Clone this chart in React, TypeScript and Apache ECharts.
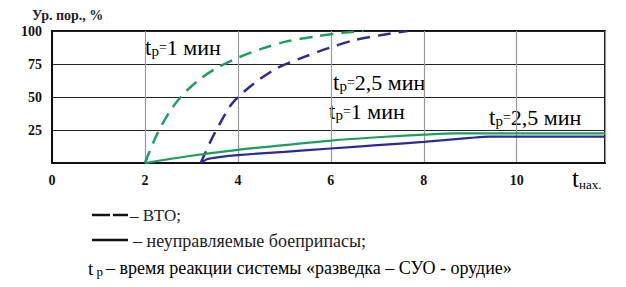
import React, { useEffect, useRef } from "react";
import * as echarts from "echarts";

const xTicks = [0, 2, 4, 6, 8, 10];
const yTicks = [25, 50, 75, 100];

const vtoFast: [number, number][] = [
  [2, 0], [2.25, 21], [2.55, 40], [2.85, 53], [3.2, 64], [3.6, 73],
  [4.05, 80.5], [4.55, 87], [5.1, 92.5], [5.7, 96], [6.3, 98.8], [6.7, 100],
];
const vtoSlow: [number, number][] = [
  [3.2, 0], [3.42, 17], [3.63, 31], [3.85, 44], [4.13, 54], [4.45, 63],
  [4.85, 72], [5.4, 80], [5.95, 87], [6.5, 93], [7.1, 97], [7.65, 100],
];
const unguidedFast: [number, number][] = [
  [2, 0], [3, 5.5], [4, 10], [5, 13.5], [6, 17], [7, 19.5], [8, 21.5], [8.7, 22.5], [11.9, 22.5],
];
const unguidedSlow: [number, number][] = [
  [3.2, 0], [3.35, 3], [3.6, 4.5], [4, 6], [5, 8.5], [6, 11], [7, 13.5], [8, 16], [9, 19], [9.4, 20], [11.9, 20],
];

const GREEN = "#1c9f5e";
const BLUE = "#2d2a98";
const SERIF = "Times New Roman, Liberation Serif, DejaVu Serif, serif";

const tpRich = {
  t: { fontSize: 23, fontFamily: SERIF, color: "#222" },
  p: { fontSize: 15, fontFamily: SERIF, color: "#222", verticalAlign: "bottom" },
  e: { fontSize: 14, fontFamily: SERIF, color: "#222" },
  v: { fontSize: 22, fontFamily: SERIF, color: "#222" },
};

function tpLabel(x: number, y: number, val: string) {
  return {
    type: "text",
    x,
    y,
    style: {
      text: `{t|t}{p|р}{e|=}{v|${val}}`,
      rich: tpRich,
      fontFamily: SERIF,
      verticalAlign: "middle",
    },
  };
}

function plainText(x: number, y: number, text: string, size: number, weight = "normal") {
  return {
    type: "text",
    x,
    y,
    style: {
      text,
      fontFamily: SERIF,
      fontSize: size,
      fontWeight: weight,
      fill: "#222",
      verticalAlign: "middle",
    },
  };
}

export default function App() {
  const ref = useRef<HTMLDivElement>(null);
  useEffect(() => {
    if (!ref.current) return;
    const chart = echarts.init(ref.current, null, { renderer: "svg" });
    chart.setOption({
      animation: false,
      backgroundColor: "#fff",
      textStyle: { fontFamily: SERIF },
      grid: {
        left: 52,
        top: 31,
        right: 21,
        bottom: 124,
        show: true,
        borderColor: "#111",
        borderWidth: 2,
      },
      xAxis: {
        type: "value",
        min: 0,
        max: 11.9,
        interval: 2,
        axisLine: { show: true, lineStyle: { color: "#111", width: 2 } },
        axisTick: { show: false },
        splitLine: { show: true, lineStyle: { color: "#9a9a9a", width: 1.2 } },
        axisLabel: {
          margin: 10,
          color: "#111",
          fontFamily: SERIF,
          fontWeight: "bold",
          fontSize: 14,
          showMaxLabel: false,
          formatter: (v: number) => (xTicks.includes(v) ? String(v) : ""),
        },
      },
      yAxis: {
        type: "value",
        min: 0,
        max: 100,
        interval: 25,
        axisLine: { show: true, lineStyle: { color: "#111", width: 2 } },
        axisTick: { show: false },
        splitLine: { show: true, lineStyle: { color: "#222", width: 1 } },
        axisLabel: {
          margin: 10,
          color: "#111",
          fontFamily: SERIF,
          fontWeight: "bold",
          fontSize: 14,
          showMinLabel: false,
          formatter: (v: number) => (yTicks.includes(v) ? String(v) : ""),
        },
      },
      series: [
        {
          type: "line",
          data: vtoFast,
          smooth: 0.3,
          showSymbol: false,
          lineStyle: { color: GREEN, width: 2.5, type: [13, 8] },
        },
        {
          type: "line",
          data: vtoSlow,
          smooth: 0.3,
          showSymbol: false,
          lineStyle: { color: BLUE, width: 2.5, type: [13, 8] },
        },
        {
          type: "line",
          data: unguidedFast,
          smooth: 0.3,
          showSymbol: false,
          lineStyle: { color: GREEN, width: 2.2 },
        },
        {
          type: "line",
          data: unguidedSlow,
          smooth: 0.3,
          showSymbol: false,
          lineStyle: { color: BLUE, width: 2.2 },
        },
      ],
      graphic: [
        plainText(32, 15, "Ур. пор., %", 14, "bold"),
        {
          type: "text",
          x: 572,
          y: 178,
          style: {
            text: "{t|t}{s|нах.}",
            fontFamily: SERIF,
            rich: {
              t: { fontSize: 25, fontFamily: SERIF, color: "#222" },
              s: { fontSize: 13, fontFamily: SERIF, color: "#222", verticalAlign: "bottom" },
            },
            verticalAlign: "middle",
          },
        },
        tpLabel(145, 47, "1 мин"),
        tpLabel(333, 82, "2,5 мин"),
        tpLabel(329, 111, "1 мин"),
        tpLabel(489, 117, "2,5 мин"),
        // legend
        { type: "line", shape: { x1: 92, y1: 215, x2: 110, y2: 215 }, style: { stroke: "#111", lineWidth: 2.5 } },
        { type: "line", shape: { x1: 113, y1: 215, x2: 128, y2: 215 }, style: { stroke: "#111", lineWidth: 2.5 } },
        plainText(130, 215, "– ВТО;", 17),
        { type: "line", shape: { x1: 92, y1: 240, x2: 128, y2: 240 }, style: { stroke: "#111", lineWidth: 2.5 } },
        plainText(133, 241, "– неуправляемые боеприпасы;", 18),
        {
          type: "text",
          x: 88,
          y: 268,
          style: {
            text: "{t|t}{p| р} {m|– время реакции системы «разведка – СУО - орудие»}",
            fontFamily: SERIF,
            rich: {
              t: { fontSize: 19, fontFamily: SERIF, color: "#222" },
              p: { fontSize: 13, fontFamily: SERIF, color: "#222", verticalAlign: "bottom" },
              m: { fontSize: 18, fontFamily: SERIF, color: "#222" },
            },
            verticalAlign: "middle",
          },
        },
      ],
    });
    return () => chart.dispose();
  }, []);
  return (
    <div
      ref={ref}
      style={{ position: "fixed", left: 0, top: 0, width: 626, height: 287, background: "#fff" }}
    />
  );
}
